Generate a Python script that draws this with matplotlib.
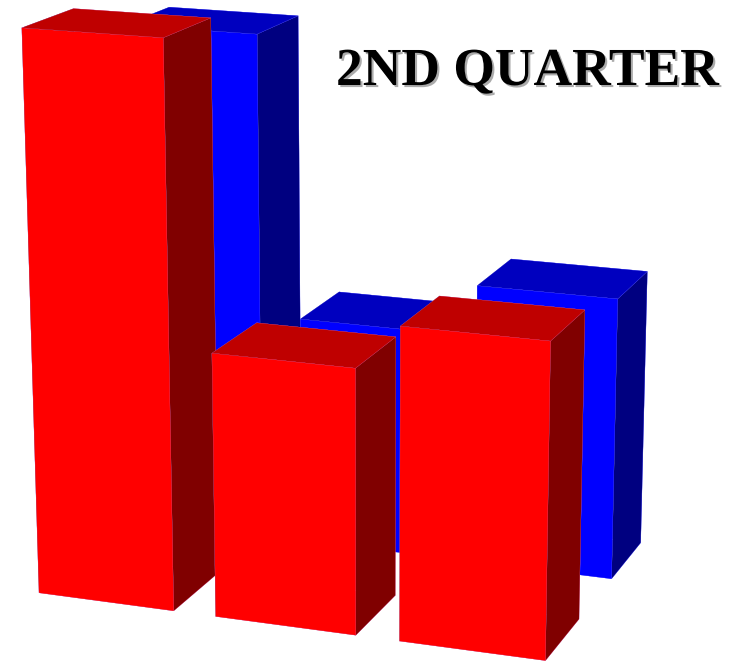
import numpy as np, matplotlib
matplotlib.use('Agg')
import matplotlib.pyplot as plt
import matplotlib.patheffects as pe

title = '2ND QUARTER'
columns = [0, 1, 2]
red_values = [103.36, 48.60, 56.85]
blue_values = [96.83, 43.63, 53.29]

RED = ['#ff0000', '#bf0000', '#ff0000', '#ff0000', '#800000', '#800000']   # bottom, top, front, back, left, right
BLUE = ['#0000ff', '#0000bf', '#0000ff', '#0000ff', '#000080', '#000080']

W, H = 747, 662
el, az, ro, lf = 14.95845, -71.53165, -0.42279, -0.47223
s, tx, ty = 4822.75106, 455.19319, 274.24885
x0, pitch, width = -0.26635, 1.03644, 0.79396
y0, depth, gap = -0.19235, 0.40861, 0.83375

fig = plt.figure(figsize=(W / 100, H / 100), dpi=100, facecolor='white')
ax = fig.add_axes([0, 0, 1, 1], projection='3d', computed_zorder=False)
vx = ax.viewLim.intervalx
vy = ax.viewLim.intervaly
left = tx + s * vx[0]
right = tx + s * vx[1]
top = ty - s * vy[1]
bottom = ty - s * vy[0]
ax.set_position([left / W, (H - bottom) / H, (right - left) / W, (bottom - top) / H])
ax.set_xlim(0, 3)
ax.set_ylim(0, 2)
ax.set_zlim(0, 100)
ax.set_box_aspect((1, 1, 1))
ax.set_proj_type('persp', focal_length=float(np.exp(lf)))
ax.view_init(elev=el, azim=az, roll=ro)
ax.set_axis_off()

z = 1
for vals, cols, yy, edge in [(blue_values, BLUE, y0 + gap, '#9090ff'), (red_values, RED, y0, '#c080e0')]:
    for c, v in zip(columns, vals):
        ax.bar3d(x0 + pitch * c, yy, 0, width, depth, v, color=cols, shade=False,
                 edgecolor=edge, linewidth=0.12, zorder=z)
        z += 1

fig.text(336 / W, (H - 85) / H, title, fontsize=38.5, fontweight='bold', family='Liberation Serif',
         ha='left', va='baseline', color='black',
         path_effects=[pe.withSimplePatchShadow(offset=(1.5, -1.5), shadow_rgbFace='#888888', alpha=0.7)])
fig.savefig('out.png', dpi=100, facecolor='white')
